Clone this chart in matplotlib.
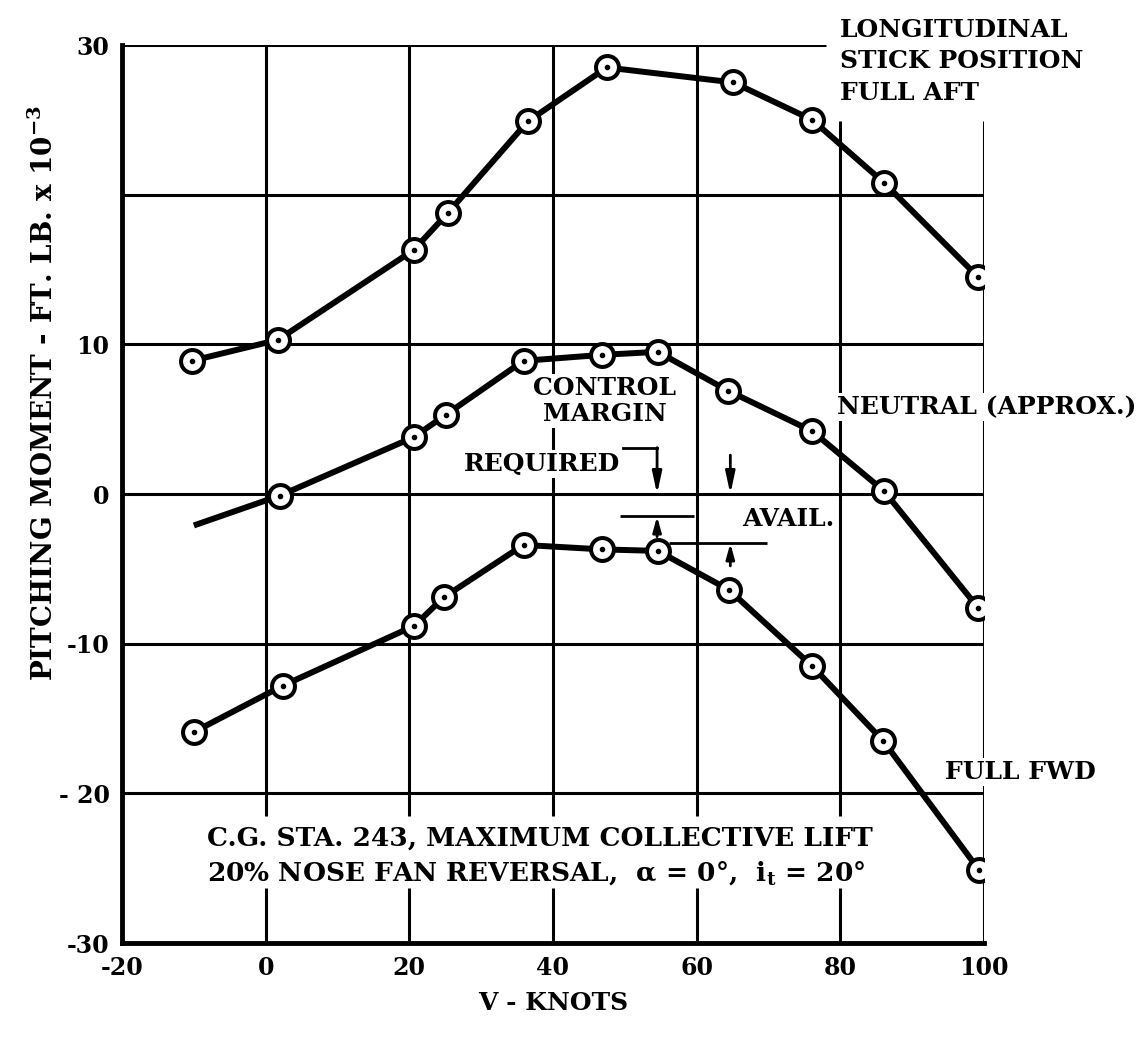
import matplotlib
matplotlib.use('Agg')
import matplotlib.pyplot as plt

# ----- data -----
aft_v = [-10.3, 1.7, 20.6, 25.4, 36.5, 47.5, 65.1, 76.1, 86.1, 99.2]
aft_m = [8.9, 10.3, 16.3, 18.8, 24.9, 28.5, 27.5, 25.0, 20.8, 14.5]

neutral_v = [-10.0, 2.0, 20.6, 25.1, 35.9, 46.9, 54.6, 64.4, 76.1, 86.1, 99.2]
neutral_m = [-2.1, -0.1, 3.8, 5.3, 8.9, 9.3, 9.5, 6.9, 4.2, 0.2, -7.6]

fwd_v = [-10.0, 2.4, 20.7, 24.8, 35.9, 46.9, 54.6, 64.5, 76.1, 86.0, 99.3]
fwd_m = [-15.9, -12.8, -8.8, -6.9, -3.4, -3.7, -3.8, -6.4, -11.5, -16.5, -25.1]

x_ticks = [-20, 0, 20, 40, 60, 80, 100]
x_labels = ['-20', '0', '20', '40', '60', '80', '100']
y_ticks = [-30, -20, -10, 0, 10, 30]
y_labels = ['-30', '- 20', '-10', '0', '10', '30']

# control margin marks
req_v, req_top, req_bar = 54.5, 3.1, -1.5
avail_v, avail_bar = 64.7, -3.3

plt.rcParams['mathtext.fontset'] = 'dejavuserif'
FONT = dict(family='DejaVu Serif', fontweight='bold', color='black')
FS = 18


def draw_curve(ax, v, m, every=None):
    ax.plot(v, m, color='black', lw=4.3, zorder=3, solid_capstyle='butt')
    if every is None:
        every = range(len(v))
    pv = [v[i] for i in every]
    pm = [m[i] for i in every]
    ax.plot(pv, pm, ls='none', marker='o', ms=16.5, mew=2.9,
            mfc='white', mec='black', zorder=4)
    ax.plot(pv, pm, ls='none', marker='o', ms=3, color='black', zorder=5)


def draw_grid(ax):
    k = dict(color='black', lw=2.2, zorder=1)
    # horizontal lines
    ax.hlines([-20, -10, 0, 10, 20], -20, 100, **k)
    ax.hlines(30, -20, 78, **k)
    # vertical lines, broken by the note at the bottom
    ax.vlines([0, 20, 40, 60], -21.5, 30, **k)
    ax.vlines(80, -21.5, 24.9, **k)
    ax.vlines([0, 20, 40, 60, 80], -30, -26.3, **k)
    ax.vlines(100, -30, 24.9, **k)


def main():
    fig = plt.figure(figsize=(11.46, 10.47), dpi=100)
    ax = fig.add_axes([0.1065, 0.0993, 0.752, 0.8577])
    ax.set_xlim(-20, 100)
    ax.set_ylim(-30, 30)

    for s in ['top', 'right']:
        ax.spines[s].set_visible(False)
    for s in ['left', 'bottom']:
        ax.spines[s].set_linewidth(3.5)
        ax.spines[s].set_zorder(2)

    ax.set_xticks(x_ticks)
    ax.set_xticklabels(x_labels, **FONT, fontsize=17)
    ax.set_yticks(y_ticks)
    ax.set_yticklabels(y_labels, **FONT, fontsize=17)
    ax.tick_params(length=0, pad=9)

    draw_grid(ax)

    draw_curve(ax, aft_v, aft_m)
    draw_curve(ax, neutral_v, neutral_m, every=range(1, len(neutral_v)))
    draw_curve(ax, fwd_v, fwd_m)

    # control margin arrows
    arr = dict(arrowstyle='-|>,head_length=1.3,head_width=0.28', lw=2, color='black',
               shrinkA=0, shrinkB=0)
    ax.plot([49.8, req_v], [req_top, req_top], color='black', lw=2, zorder=3)
    ax.annotate('', xy=(req_v, 0), xytext=(req_v, req_top), arrowprops=arr, zorder=3)
    ax.annotate('', xy=(avail_v, 0), xytext=(avail_v, 2.6), arrowprops=arr, zorder=3)
    ax.hlines(req_bar, 49.4, 59.6, color='black', lw=2, zorder=3)
    ax.hlines(avail_bar, 56.2, 69.8, color='black', lw=2, zorder=3)
    arr2 = dict(arrowstyle='-|>,head_length=0.9,head_width=0.25', lw=2, color='black',
                shrinkA=0, shrinkB=0)
    ax.annotate('', xy=(req_v, req_bar), xytext=(req_v, -2.85), arrowprops=arr2, zorder=3)
    ax.annotate('', xy=(avail_v, avail_bar), xytext=(avail_v, -4.8), arrowprops=arr2, zorder=3)

    wb = dict(facecolor='white', edgecolor='none', pad=1.5)

    # labels on the chart
    ax.text(80, 28.9, 'LONGITUDINAL\nSTICK POSITION\nFULL AFT', ha='left', va='center',
            fontsize=FS, linespacing=1.42, **FONT, zorder=6)
    ax.text(79.6, 5.8, 'NEUTRAL (APPROX.)', ha='left', va='center', fontsize=FS,
            bbox=wb, **FONT, zorder=6)
    ax.text(94.6, -18.6, 'FULL FWD', ha='left', va='center', fontsize=FS,
            bbox=wb, **FONT, zorder=6)
    ax.text(47.2, 6.2, 'CONTROL\nMARGIN', ha='center', va='center', fontsize=FS,
            linespacing=1.1, bbox=wb, **FONT, zorder=6)
    ax.text(49.3, 2.0, 'REQUIRED', ha='right', va='center', fontsize=FS,
            bbox=wb, **FONT, zorder=6)
    ax.text(66.3, -1.65, 'AVAIL.', ha='left', va='center', fontsize=FS,
            **FONT, zorder=6)

    ax.text(-8.2, -23.0, 'C.G. STA. 243, MAXIMUM COLLECTIVE LIFT', ha='left', va='center',
            fontsize=19, **FONT, zorder=6)
    ax.text(-8.2, -25.3, r'20% NOSE FAN REVERSAL,  α = 0°,  i$_{\mathbf{t}}$ = 20°',
            ha='left', va='center', fontsize=19, **FONT, zorder=6)

    ax.set_xlabel('V - KNOTS', fontsize=FS, labelpad=8, **FONT)
    fig.text(0.039, 0.625, r'PITCHING MOMENT - FT. LB. x 10$^{\mathbf{-3}}$', rotation=90,
             ha='center', va='center', fontsize=20, **FONT)

    fig.savefig('out.png', dpi=100, facecolor='white')


if __name__ == '__main__':
    main()
